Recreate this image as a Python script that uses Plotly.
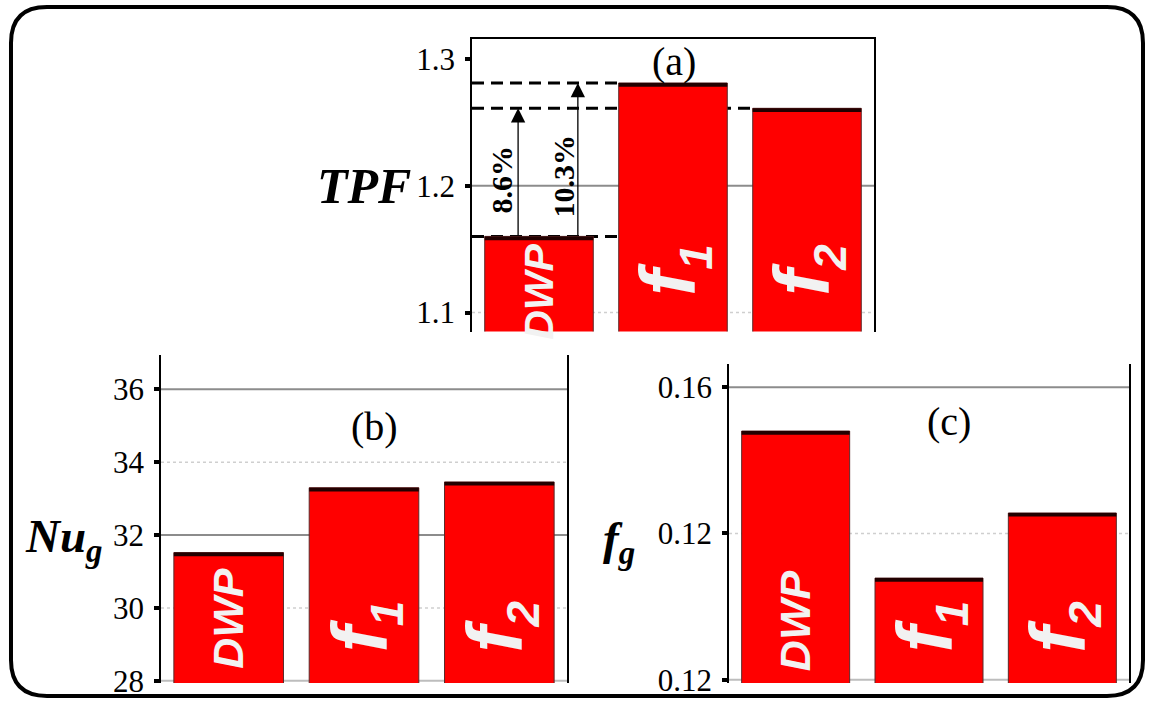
import plotly.graph_objects as go

# ---------------- data ----------------
categories = ["DWP", "f1", "f2"]
tpf_values = [1.160, 1.281, 1.261]
nu_values = [31.52, 33.30, 33.46]
fg_values = [0.1540, 0.1339, 0.1428]

tpf_ticks = [1.1, 1.2, 1.3]
tpf_ticktext = ["1.1", "1.2", "1.3"]
nu_ticks = [28, 30, 32, 34, 36]
nu_ticktext = ["28", "30", "32", "34", "36"]
fg_ticks = [0.12, 0.14, 0.16]
fg_ticktext = ["0.12", "0.12", "0.16"]

SUB = '<sub><span style="font-size:46px"><b><i>{}</i></b></span></sub>'
bar_labels = ["<b><i>DWP</i></b>",
              "<b><i>f</i></b>" + SUB.format("1"),
              "<b><i>f</i></b>" + SUB.format("2")]
increase_labels = ["<b>8.6%</b>", "<b>10.3%</b>"]

# ---------------- layout helpers ----------------
W, H = 1149, 714
HE = 699  # effective rendered height of the page
def px(x):
    return x / W
def py(y):
    return 1 - y / HE

RED = "#ff0000"
SERIF = "Liberation Serif"
SANS = "Liberation Sans"

fig = go.Figure()

panels = [
    dict(x="x", y="y", vals=tpf_values, rng=[1.085, 1.3157], band=0.0030,
         dom_x=[px(472), px(874)], dom_y=[py(332), py(39)]),
    dict(x="x2", y="y2", vals=nu_values, rng=[27.94, 36.93], band=0.10,
         dom_x=[px(161), px(567)], dom_y=[py(684), py(356)]),
    dict(x="x3", y="y3", vals=fg_values, rng=[0.11955, 0.1631], band=0.0005,
         dom_x=[px(729), px(1129)], dom_y=[py(684), py(365)]),
]

for p in panels:
    fig.add_trace(go.Bar(x=categories, y=p["vals"], xaxis=p["x"], yaxis=p["y"],
                         marker=dict(color=RED, line=dict(color="#5a2a2a", width=1)),
                         showlegend=False, hoverinfo="skip"))
    fig.add_trace(go.Bar(x=categories, y=[p["band"]] * len(categories),
                         base=[v - p["band"] for v in p["vals"]],
                         xaxis=p["x"], yaxis=p["y"],
                         marker=dict(color="#220000", line=dict(width=0)),
                         showlegend=False, hoverinfo="skip"))

layout = dict(
    width=W, height=H, margin=dict(l=0, r=0, t=0, b=0),
    paper_bgcolor="white", plot_bgcolor="rgba(0,0,0,0)",
    barmode="overlay", bargap=0.19, showlegend=False,
)

tickcfg = [(tpf_ticks, tpf_ticktext), (nu_ticks, nu_ticktext), (fg_ticks, fg_ticktext)]
for i, p in enumerate(panels):
    sx = "" if i == 0 else str(i + 1)
    layout["xaxis" + sx] = dict(
        domain=p["dom_x"], anchor=p["y"], range=[-0.5, 2.5],
        showticklabels=False, ticks="", showgrid=False, zeroline=False,
        showline=(i == 0), side="top", linecolor="black", linewidth=1.5,
        type="category",
    )
    layout["yaxis" + sx] = dict(
        domain=p["dom_y"], anchor=p["x"], range=p["rng"],
        tickvals=tickcfg[i][0], ticktext=tickcfg[i][1],
        tickfont=dict(family=SERIF, size=31, color="black"),
        ticks="outside", ticklen=5, tickwidth=4, tickcolor="black",
        ticklabelstandoff=4,
        showgrid=False, zeroline=False,
        showline=True, linecolor="black", linewidth=1.5, mirror=True,
    )
fig.update_layout(**layout)

shapes = []
def hline(yref, xref, yv, color, width, dash="solid"):
    return dict(type="line", xref=xref + " domain", yref=yref, x0=0, x1=1, y0=yv, y1=yv,
                line=dict(color=color, width=width, dash=dash), layer="below")

shapes += [hline("y", "x", tpf_ticks[1], "#8c8c8c", 2),
           hline("y", "x", tpf_ticks[0], "#cfcfcf", 1.5, "dot")]
shapes += [hline("y2", "x2", nu_ticks[4], "#8c8c8c", 2),
           hline("y2", "x2", nu_ticks[2], "#8c8c8c", 2),
           hline("y2", "x2", nu_ticks[0], "#bdbdbd", 2),
           hline("y2", "x2", nu_ticks[3], "#cfcfcf", 1.5, "dot"),
           hline("y2", "x2", nu_ticks[1], "#cfcfcf", 1.5, "dot")]
shapes += [hline("y3", "x3", fg_ticks[2], "#8c8c8c", 2),
           hline("y3", "x3", fg_ticks[1], "#cfcfcf", 1.5, "dot"),
           hline("y3", "x3", fg_ticks[0], "#bdbdbd", 2)]

# dashed reference lines in (a)
dash_ends = [0.6, 0.6, 1.6]
for val, xend in zip(tpf_values, dash_ends):
    shapes.append(dict(type="line", xref="x", yref="y", x0=-0.5, x1=xend, y0=val, y1=val,
                       line=dict(color="black", width=3, dash="12px,7px"), layer="below"))

# outer rounded frame
x0, y0, x1, y1, r = 11, 7, 1143, HE - 2, 36
def P(x, y):
    return f"{px(x):.5f},{py(y):.5f}"
path = (f"M {P(x0 + r, y0)} L {P(x1 - r, y0)} Q {P(x1, y0)} {P(x1, y0 + r)} "
        f"L {P(x1, y1 - r)} Q {P(x1, y1)} {P(x1 - r, y1)} "
        f"L {P(x0 + r, y1)} Q {P(x0, y1)} {P(x0, y1 - r)} "
        f"L {P(x0, y0 + r)} Q {P(x0, y0)} {P(x0 + r, y0)} Z")
shapes.append(dict(type="path", xref="paper", yref="paper", path=path,
                   line=dict(color="black", width=4), layer="above"))
fig.update_layout(shapes=shapes)

ann = []
arrow_x = [-0.156, 0.29]
for ax_, target in zip(arrow_x, [tpf_values[2], tpf_values[1]]):
    ann.append(dict(x=ax_, y=target, ax=ax_, ay=tpf_values[0], xref="x", yref="y",
                    axref="x", ayref="y", text="", showarrow=True, arrowhead=2,
                    arrowsize=2.2, arrowwidth=1.3, arrowcolor="black", standoff=0))
pct_x = [-0.278, 0.18]
pct_y = [1.2047, 1.2073]
for t, xx, yy in zip(increase_labels, pct_x, pct_y):
    ann.append(dict(x=xx, y=yy, xref="x", yref="y", text=t, textangle=-90,
                    xanchor="center", yanchor="middle",
                    showarrow=False, font=dict(family=SERIF, size=30, color="black")))

# bar labels
lab_sizes = [43, 78, 78]
for i, p in enumerate(panels):
    for j, cat in enumerate(categories):
        if i == 0:
            yy, ya = 1.155, "top"
            fs = 41 if j == 0 else lab_sizes[j]
        elif i == 1:
            yy, ya = (29.72 if j == 0 else 29.5), "middle"
            fs = lab_sizes[j]
        else:
            yy, ya = (0.1281 if j == 0 else 0.1273), "middle"
            fs = lab_sizes[j]
        ann.append(dict(x=cat, y=yy, xref=p["x"], yref=p["y"], text=bar_labels[j],
                        textangle=-90, yanchor=ya, xanchor="center", showarrow=False,
                        borderpad=0,
                        font=dict(family=SANS, size=fs, color="#f2f2f2")))

# panel letters
for t, xx, yy in [("(a)", 674, 62), ("(b)", 374, 427), ("(c)", 949, 422)]:
    ann.append(dict(x=px(xx), y=py(yy), xref="paper", yref="paper", text=t,
                    xanchor="center", yanchor="middle",
                    showarrow=False, font=dict(family=SERIF, size=40, color="black")))

# axis titles
for t, xx, yy, fs in [("<b><i>TPF</i></b>", 364, 186, 50),
                      ("<b><i>Nu</i></b><sub><b><i>g</i></b></sub>", 64, 540, 47),
                      ("<b><i>f</i></b><sub><b><i>g</i></b></sub>", 619, 542, 47)]:
    ann.append(dict(x=px(xx), y=py(yy), xref="paper", yref="paper", text=t,
                    xanchor="center", yanchor="middle",
                    showarrow=False, font=dict(family=SERIF, size=fs, color="black")))

fig.update_layout(annotations=ann)
fig.write_html("out.html")
